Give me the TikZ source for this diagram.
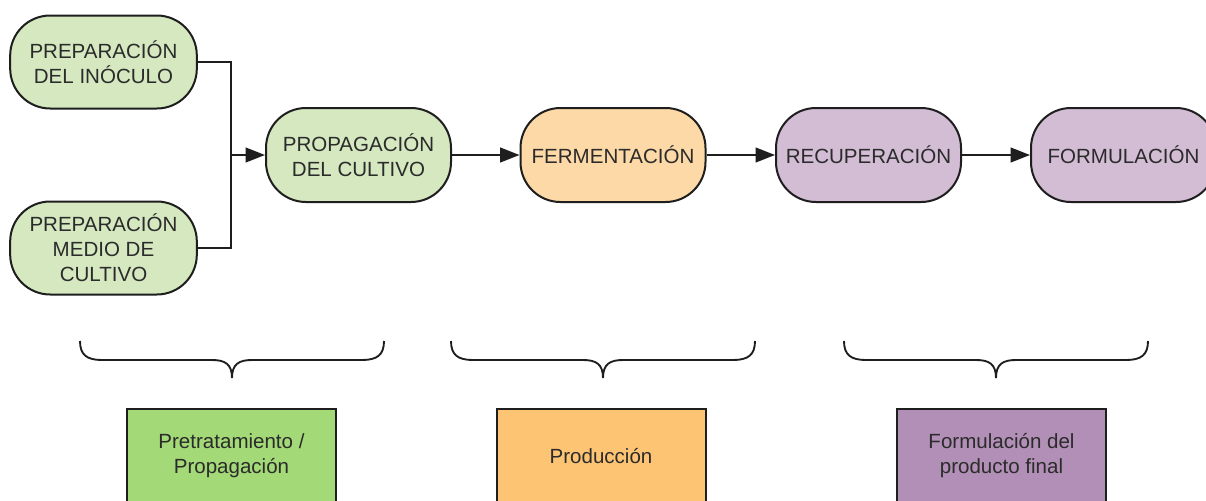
\documentclass[tikz,border=0pt]{standalone}
\usepackage{fontspec}
\setmainfont{Liberation Sans}
\usetikzlibrary{arrows.meta}
\definecolor{gnode}{HTML}{D5E8C0}
\definecolor{onode}{HTML}{FCD9A6}
\definecolor{pnode}{HTML}{D3BDD5}
\definecolor{gbox}{HTML}{A3D977}
\definecolor{obox}{HTML}{FDC474}
\definecolor{pbox}{HTML}{B28FB6}
\definecolor{ink}{HTML}{1E1E1E}
\definecolor{txt}{HTML}{2B2B2B}
\tikzset{
  stage/.style={draw=ink, line width=1.5pt, rounded corners=30pt, align=center,
    minimum width=138.75pt, minimum height=70.5pt, inner sep=2pt, text=txt,
    font=\fontsize{15.4}{18.75}\selectfont},
  phasebox/.style={draw=ink, line width=1.5pt, align=center, text=txt,
    minimum width=156.75pt, minimum height=70.5pt, inner sep=2pt,
    font=\fontsize{15.4}{18.75}\selectfont},
  flow/.style={draw=ink, line width=1.5pt, -{Triangle[length=14.5pt,width=11pt]}},
  link/.style={draw=ink, line width=1.5pt},
  brace/.style={draw=ink, line width=1.4pt}
}
\begin{document}
\begin{tikzpicture}[x=0.75pt,y=-0.75pt]
\useasboundingbox (0,0) rectangle (1206,500);
\fill[white] (0,0) rectangle (1206,500);
\clip (0,0) rectangle (1206,500);

% top row
\node[stage, fill=gnode, minimum width=140pt, minimum height=69.75pt] (ino) at (103.5,62) {PREPARACIÓN\\DEL INÓCULO};
\node[stage, fill=gnode, minimum width=140pt, minimum height=69.75pt] (med) at (103.5,248) {PREPARACIÓN\\MEDIO DE\\CULTIVO};
\node[stage, fill=gnode] (prop) at (358.5,155) {PROPAGACIÓN\\DEL CULTIVO};
\node[stage, fill=onode] (ferm) at (613,155) {FERMENTACIÓN};
\node[stage, fill=pnode] (recu) at (868.5,155) {RECUPERACIÓN};
\node[stage, fill=pnode] (form) at (1123.5,155) {FORMULACIÓN};

\coordinate (j) at (231,155);
\draw[link] (ino.east) -| (j);
\draw[link] (med.east) -| (j);
\draw[flow] (j) -- (prop.west);
\draw[flow] (prop.east) -- (ferm.west);
\draw[flow] (ferm.east) -- (recu.west);
\draw[flow] (recu.east) -- (form.west);

% braces
\foreach \L/\C/\R in {80/232/384, 451/603/755, 844/996/1148}{
  \draw[brace] (\L,341) .. controls (\L,355) and (\L+7,360) .. (\L+22,360)
    -- (\C-20,360) .. controls (\C-7,360) and (\C,364) .. (\C,378);
  \draw[brace] (\C,378) .. controls (\C,364) and (\C+7,360) .. (\C+20,360)
    -- (\R-22,360) .. controls (\R-7,360) and (\R,355) .. (\R,341);
}

% phase boxes
\node[phasebox, fill=gbox] (pre) at (231.5,456) {Pretratamiento /\\Propagación};
\node[phasebox, fill=obox] (prod) at (601,456) {Producción};
\node[phasebox, fill=pbox] (fin) at (1001.5,456) {Formulación del\\producto final};
\end{tikzpicture}
\end{document}
